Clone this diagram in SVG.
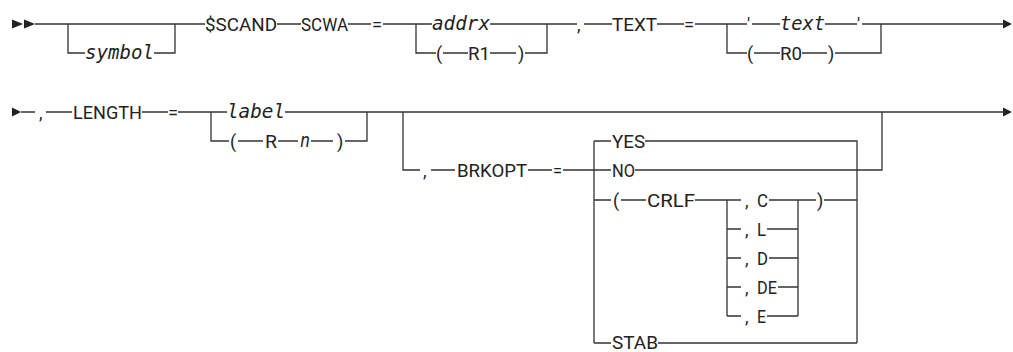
<svg xmlns="http://www.w3.org/2000/svg" width="1013" height="352" viewBox="0 0 1013 352">
<style>
.t{font-family:Roboto,"Liberation Sans",sans-serif;font-size:18px;fill:#222}
.v{font-family:"DejaVu Sans Mono","Liberation Mono",monospace;font-style:italic;font-size:19px;fill:#222}
.c path{fill:none;stroke:#333;stroke-width:1.3}
.a{fill:#222}
</style>
<rect width="1013" height="352" fill="#fff"/>
<g id="connectors" class="c">
<path d="M35,24H205M277,24H301M348,24H371M383,24H432M490,24H577M584,24H612M657,24H684M695,24H747M752,24H780M825,24H857M862,24H1003"/>
<path d="M68,24V53H85M154,53H175V24"/>
<path d="M416,24V53H436M443,53H468M490,53H516M525,53H547V24"/>
<path d="M727,24V53H747M754,53H780M802,53H827M835,53H881V24"/>
<path d="M21,112H35M46,112H72M142,112H168M178,112H227M285,112H1003"/>
<path d="M211,112V141H229M238,141H263M278,141H298M311,141H333M345,141H367V112"/>
<path d="M403,112V170H420M431,170H455M528,170H552M563,170H611M635,170H882V112"/>
<path d="M594,141V343M594,141H611M645,141H857V343M594,200H611M621,200H646M695,200H741M769,200H816M824,200H857M594,343H611M658,343H857"/>
<path d="M727,200V316M798,200V316M727,229H741M767,229H798M727,258H741M769,258H798M727,287H741M778,287H798M727,316H741M767,316H798"/>
<polygon class="a" points="12,19.5 23,24 12,28.5"/>
<polygon class="a" points="24,19.5 35,24 24,28.5"/>
<polygon class="a" points="1003,19.5 1012,24 1003,28.5"/>
<polygon class="a" points="12,107.5 21,112 12,116.5"/>
<polygon class="a" points="1003,107.5 1012,112 1003,116.5"/>
</g>
<g id="symbol"><text class="v" x="85" y="59" textLength="69" lengthAdjust="spacingAndGlyphs">symbol</text></g>
<g id="scand"><text class="t" x="205" y="30.5" textLength="72" lengthAdjust="spacingAndGlyphs">$SCAND</text></g>
<g id="scwa"><text class="t" x="301" y="30.5" textLength="47" lengthAdjust="spacingAndGlyphs">SCWA</text></g>
<g id="eq1"><text class="t" x="372" y="30.5" textLength="10" lengthAdjust="spacingAndGlyphs">=</text></g>
<g id="addrx"><text class="v" x="432" y="30" textLength="58" lengthAdjust="spacingAndGlyphs">addrx</text></g>
<g id="r1"><text class="t" x="436" y="59.5">(</text><text class="t" x="468" y="59.5" textLength="22" lengthAdjust="spacingAndGlyphs">R1</text><text class="t" x="518" y="59.5">)</text></g>
<g id="comma1"><text class="t" x="577" y="30.5">,</text></g>
<g id="textkw"><text class="t" x="612" y="30.5" textLength="45" lengthAdjust="spacingAndGlyphs">TEXT</text></g>
<g id="eq2"><text class="t" x="684" y="30.5" textLength="10" lengthAdjust="spacingAndGlyphs">=</text></g>
<g id="textval"><text class="t" x="747" y="30.5">'</text><text class="v" x="780" y="30" textLength="45" lengthAdjust="spacingAndGlyphs">text</text><text class="t" x="857" y="30.5">'</text></g>
<g id="r0"><text class="t" x="747" y="59.5">(</text><text class="t" x="780" y="59.5" textLength="22" lengthAdjust="spacingAndGlyphs">R0</text><text class="t" x="828" y="59.5">)</text></g>
<g id="comma2"><text class="t" x="39" y="118.5">,</text></g>
<g id="length"><text class="t" x="73" y="118.5" textLength="69" lengthAdjust="spacingAndGlyphs">LENGTH</text></g>
<g id="eq3"><text class="t" x="168" y="118.5" textLength="10" lengthAdjust="spacingAndGlyphs">=</text></g>
<g id="label"><text class="v" x="227" y="118" textLength="58" lengthAdjust="spacingAndGlyphs">label</text></g>
<g id="rn"><text class="t" x="230" y="147.5">(</text><text class="t" x="265" y="147.5" textLength="12" lengthAdjust="spacingAndGlyphs">R</text><text class="v" x="300" y="147" textLength="10" lengthAdjust="spacingAndGlyphs">n</text><text class="t" x="337" y="147.5">)</text></g>
<g id="comma3"><text class="t" x="423" y="176.5">,</text></g>
<g id="brkopt"><text class="t" x="457" y="176.5" textLength="70" lengthAdjust="spacingAndGlyphs">BRKOPT</text></g>
<g id="eq4"><text class="t" x="553" y="176.5" textLength="9" lengthAdjust="spacingAndGlyphs">=</text></g>
<g id="yes"><text class="t" x="612" y="147.5" textLength="33" lengthAdjust="spacingAndGlyphs">YES</text></g>
<g id="no"><text class="t" x="612" y="176.5" textLength="23" lengthAdjust="spacingAndGlyphs">NO</text></g>
<g id="crlf"><text class="t" x="613" y="206.5">(</text><text class="t" x="647" y="206.5" textLength="48" lengthAdjust="spacingAndGlyphs">CRLF</text><text class="t" x="817" y="206.5">)</text></g>
<g id="optC"><text class="t" x="745" y="206.5">,</text><text class="t" x="757" y="206.5" textLength="11" lengthAdjust="spacingAndGlyphs">C</text></g>
<g id="optL"><text class="t" x="745" y="235.5">,</text><text class="t" x="757" y="235.5" textLength="9" lengthAdjust="spacingAndGlyphs">L</text></g>
<g id="optD"><text class="t" x="745" y="264.5">,</text><text class="t" x="757" y="264.5" textLength="11" lengthAdjust="spacingAndGlyphs">D</text></g>
<g id="optDE"><text class="t" x="745" y="293.5">,</text><text class="t" x="757" y="293.5" textLength="20" lengthAdjust="spacingAndGlyphs">DE</text></g>
<g id="optE"><text class="t" x="745" y="322.5">,</text><text class="t" x="757" y="322.5" textLength="9" lengthAdjust="spacingAndGlyphs">E</text></g>
<g id="stab"><text class="t" x="612" y="349" textLength="46" lengthAdjust="spacingAndGlyphs">STAB</text></g>
</svg>
